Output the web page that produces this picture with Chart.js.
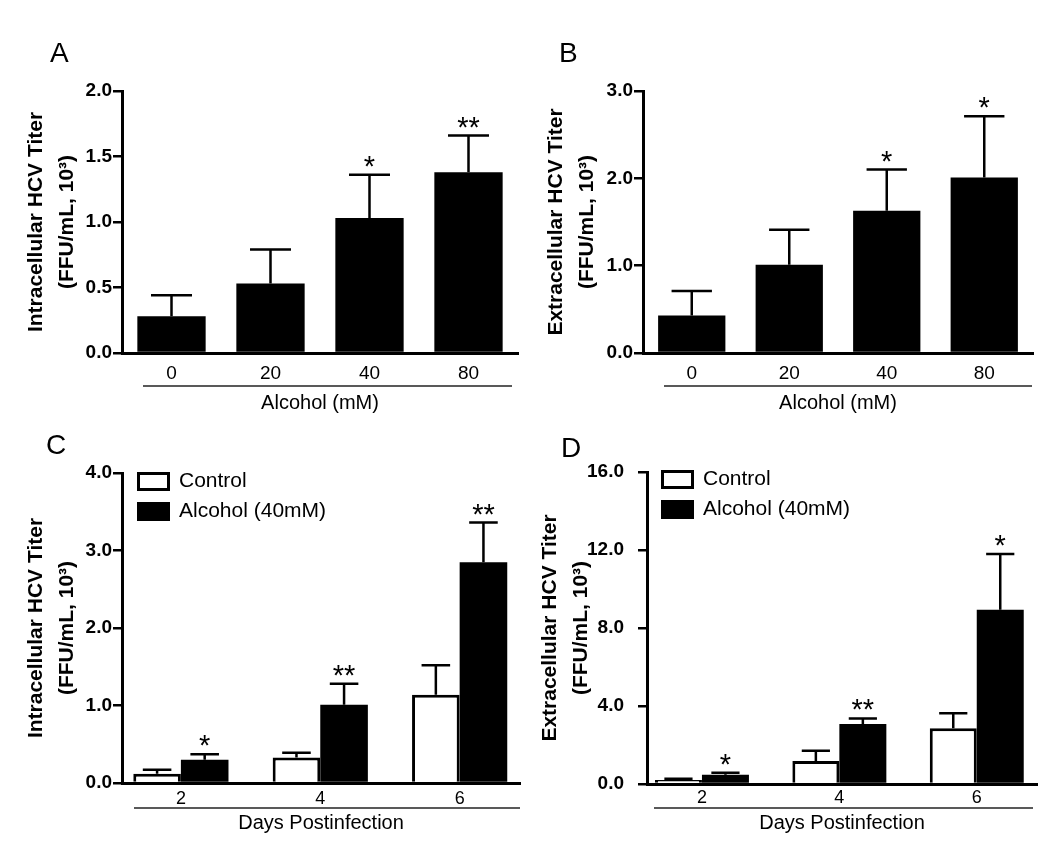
<!DOCTYPE html>
<html>
<head>
<meta charset="utf-8">
<title>HCV titer</title>
<script src="https://cdn.jsdelivr.net/npm/chart.js@4.4.1/dist/chart.umd.min.js"></script>
<style>
  body { margin: 0; background: #fff; width: 1050px; height: 849px; position: relative; overflow: hidden; font-family: "Liberation Sans", Arial, sans-serif; }
  canvas { position: absolute; }
  .tag { position: absolute; font-size: 28px; line-height: 28px; color: #000; }
</style>
</head>
<body>
<canvas id="chartA" width="525" height="425" style="left:0;top:0"></canvas>
<canvas id="chartB" width="525" height="425" style="left:525px;top:0"></canvas>
<canvas id="chartC" width="525" height="424" style="left:0;top:425px"></canvas>
<canvas id="chartD" width="525" height="424" style="left:525px;top:425px"></canvas>
<div class="tag" style="left:50px;top:39px">A</div>
<div class="tag" style="left:559px;top:39px">B</div>
<div class="tag" style="left:46px;top:431px">C</div>
<div class="tag" style="left:561px;top:434px">D</div>
<script>
// === panels A/B: titer vs alcohol dose ===
const doses = ['0', '20', '40', '80'];
const intraDose = [0.28, 0.53, 1.03, 1.38];
const intraDoseErr = [0.16, 0.26, 0.33, 0.28];
const intraDoseStars = ['', '', '*', '**'];
const intraDoseTicks = [0, 0.5, 1.0, 1.5, 2.0];

const extraDose = [0.43, 1.01, 1.63, 2.01];
const extraDoseErr = [0.28, 0.40, 0.47, 0.70];
const extraDoseStars = ['', '', '*', '*'];
const extraDoseTicks = [0, 1.0, 2.0, 3.0];

// === panels C/D: time course ===
const days = [2, 4, 6];
const intraControl = [0.12, 0.33, 1.14];
const intraControlErr = [0.05, 0.06, 0.38];
const intraAlcohol = [0.30, 1.01, 2.85];
const intraAlcoholErr = [0.07, 0.27, 0.51];
const intraStars = ['*', '**', '**'];
const intraDayTicks = [0, 1.0, 2.0, 3.0, 4.0];

const extraControl = [0.20, 1.18, 2.86];
const extraControlErr = [0.07, 0.53, 0.77];
const extraAlcohol = [0.48, 3.08, 8.94];
const extraAlcoholErr = [0.10, 0.28, 2.86];
const extraStars = ['*', '**', '*'];
const extraDayTicks = [0, 4.0, 8.0, 12.0, 16.0];

const FONT = '"Liberation Sans", Arial, Helvetica, sans-serif';
Chart.defaults.font.family = FONT;
Chart.defaults.color = '#000';

// error bars (upper only), significance stars and the line under the x ticks
const annotate = {
    id: 'annotate',
    afterDatasetsDraw(chart, args, opts) {
        const ctx = chart.ctx;
        const yScale = chart.scales.y;
        chart.data.datasets.forEach((ds, di) => {
            const meta = chart.getDatasetMeta(di);
            meta.data.forEach((bar, i) => {
                const raw = ds.data[i];
                const v = typeof raw === 'object' ? raw.y : raw;
                const p = bar.getProps(['x', 'y', 'width'], true);
                const top = yScale.getPixelForValue(v + ds.errorBars[i]);
                const half = p.width * 0.3;
                ctx.save();
                ctx.strokeStyle = '#000';
                ctx.lineWidth = 2.5;
                ctx.beginPath();
                ctx.moveTo(p.x, p.y);
                ctx.lineTo(p.x, top);
                ctx.moveTo(p.x - half, top);
                ctx.lineTo(p.x + half, top);
                ctx.stroke();
                if (ds.stars && ds.stars[i]) {
                    ctx.fillStyle = '#000';
                    ctx.font = '29px ' + FONT;
                    ctx.textAlign = 'center';
                    ctx.textBaseline = 'alphabetic';
                    ctx.fillText(ds.stars[i], p.x, top + 1);
                }
                ctx.restore();
            });
        });
        const u = opts.underline;
        if (u) {
            ctx.save();
            ctx.strokeStyle = '#222';
            ctx.lineWidth = 1.5;
            ctx.beginPath();
            ctx.moveTo(u.x1, u.y);
            ctx.lineTo(u.x2, u.y);
            ctx.stroke();
            ctx.restore();
        }
    }
};

// put the in-plot legend where the figure has it
const legendShift = {
    id: 'legendShift',
    afterLayout(chart, args, opts) {
        const lg = chart.legend;
        if (!lg || opts.dx === undefined) return;
        const area = chart.chartArea;
        lg.left = area.left + opts.dx;
        lg.top = area.top + opts.dy;
        lg.right = area.right;
        lg.bottom = area.bottom;
    }
};

function makeChart(id, cfg) {
    return new Chart(document.getElementById(id), {
        type: 'bar',
        data: { labels: cfg.labels, datasets: cfg.datasets },
        options: {
            responsive: false,
            animation: false,
            layout: { padding: cfg.padding },
            scales: {
                x: cfg.x,
                y: {
                    min: 0,
                    max: cfg.yTicks[cfg.yTicks.length - 1],
                    afterBuildTicks: (s) => { s.ticks = cfg.yTicks.map(v => ({ value: v })); },
                    afterFit: (s) => { s.width = cfg.yWidth; },
                    border: { color: '#000', width: 3 },
                    grid: { drawOnChartArea: false, drawTicks: true, tickLength: 9, color: '#000', lineWidth: 2.5 },
                    ticks: { padding: cfg.yTickPad, font: { size: 19, weight: 'bold' }, callback: (v) => Number(v).toFixed(1) },
                    title: {
                        display: true,
                        text: cfg.yTitle,
                        font: { size: 21, weight: 'bold', lineHeight: 1.5 },
                        padding: { top: cfg.yTitlePad, bottom: 0 }
                    }
                }
            },
            plugins: {
                legend: cfg.legend || { display: false },
                tooltip: { enabled: false },
                annotate: { underline: cfg.underline },
                legendShift: cfg.legendShift || {}
            }
        },
        plugins: [annotate, legendShift]
    });
}

function doseAxis(height, pad, titlePad) {
    return {
        afterFit: (s) => { s.height = height; },
        grid: { display: false, drawTicks: false },
        border: { color: '#000', width: 3 },
        ticks: { padding: pad, font: { size: 19 } },
        title: { display: true, text: 'Alcohol (mM)', font: { size: 20 }, padding: { top: 0, bottom: titlePad } }
    };
}

function dayAxis(min, max, height, pad, titlePad) {
    return {
        type: 'linear',
        min: min,
        max: max,
        offset: false,
        afterBuildTicks: (s) => { s.ticks = days.map(v => ({ value: v })); },
        afterFit: (s) => { s.height = height; },
        grid: { display: false, drawTicks: false },
        border: { color: '#000', width: 3 },
        ticks: { padding: pad, font: { size: 18 }, callback: (v) => String(v) },
        title: { display: true, text: 'Days Postinfection', font: { size: 20 }, padding: { top: 0, bottom: titlePad } }
    };
}

const points = (vals) => days.map((d, i) => ({ x: d, y: vals[i] }));

const dayLegend = {
    display: true,
    position: 'chartArea',
    align: 'start',
    labels: {
        boxWidth: 30, boxHeight: 16, padding: 9, color: '#000', font: { size: 21 },
        // both boxes get the black outline of the figure
        generateLabels: (chart) => Chart.defaults.plugins.legend.labels.generateLabels(chart)
            .map(item => Object.assign(item, { lineWidth: 3, strokeStyle: '#000' }))
    }
};

// A
makeChart('chartA', {
    labels: doses,
    padding: { left: 0, right: 7, top: 91, bottom: 0 },
    yWidth: 122, yTickPad: 1, yTitlePad: 20,
    yTicks: intraDoseTicks,
    yTitle: ['Intracellular HCV Titer', '(FFU/mL, 10\u00B3)'],
    x: doseAxis(72, 9, 10),
    underline: { x1: 143, x2: 512, y: 386 },
    datasets: [{
        data: intraDose, backgroundColor: '#000', borderWidth: 0,
        barPercentage: 0.69, categoryPercentage: 1,
        errorBars: intraDoseErr, stars: intraDoseStars
    }]
});

// B
makeChart('chartB', {
    labels: doses,
    padding: { left: 0, right: 17, top: 91, bottom: 0 },
    yWidth: 118, yTickPad: 1, yTitlePad: 15,
    yTicks: extraDoseTicks,
    yTitle: ['Extracellular HCV Titer', '(FFU/mL, 10\u00B3)'],
    x: doseAxis(72, 9, 10),
    underline: { x1: 139, x2: 507, y: 386 },
    datasets: [{
        data: extraDose, backgroundColor: '#000', borderWidth: 0,
        barPercentage: 0.69, categoryPercentage: 1,
        errorBars: extraDoseErr, stars: extraDoseStars
    }]
});

// C
makeChart('chartC', {
    padding: { left: 0, right: 5, top: 48, bottom: 0 },
    yWidth: 122, yTickPad: 1, yTitlePad: 20,
    yTicks: intraDayTicks,
    yTitle: ['Intracellular HCV Titer', '(FFU/mL, 10\u00B3)'],
    x: dayAxis(1.155, 6.866, 66, 5, 14),
    underline: { x1: 134, x2: 520, y: 383 },
    legend: dayLegend,
    legendShift: { dx: 7.5, dy: -11 },
    datasets: [{
        label: 'Control', data: points(intraControl),
        backgroundColor: '#fff', borderColor: '#000', borderWidth: 3,
        barPercentage: 1, categoryPercentage: 0.683,
        errorBars: intraControlErr, stars: []
    }, {
        label: 'Alcohol (40mM)', data: points(intraAlcohol),
        backgroundColor: '#000', borderColor: '#000', borderWidth: 0,
        barPercentage: 1, categoryPercentage: 0.683,
        errorBars: intraAlcoholErr, stars: intraStars
    }]
});

// D
makeChart('chartD', {
    padding: { left: 0, right: 13, top: 47, bottom: 0 },
    yWidth: 122, yTickPad: 14, yTitlePad: 9,
    yTicks: extraDayTicks,
    yTitle: ['Extracellular HCV Titer', '(FFU/mL, 10\u00B3)'],
    x: dayAxis(1.2, 6.877, 65, 3, 14),
    underline: { x1: 129, x2: 508, y: 383 },
    legend: dayLegend,
    legendShift: { dx: 6.5, dy: -12 },
    datasets: [{
        label: 'Control', data: points(extraControl),
        backgroundColor: '#fff', borderColor: '#000', borderWidth: 3,
        barPercentage: 1, categoryPercentage: 0.684,
        errorBars: extraControlErr, stars: []
    }, {
        label: 'Alcohol (40mM)', data: points(extraAlcohol),
        backgroundColor: '#000', borderColor: '#000', borderWidth: 0,
        barPercentage: 1, categoryPercentage: 0.684,
        errorBars: extraAlcoholErr, stars: extraStars
    }]
});
</script>
</body>
</html>
